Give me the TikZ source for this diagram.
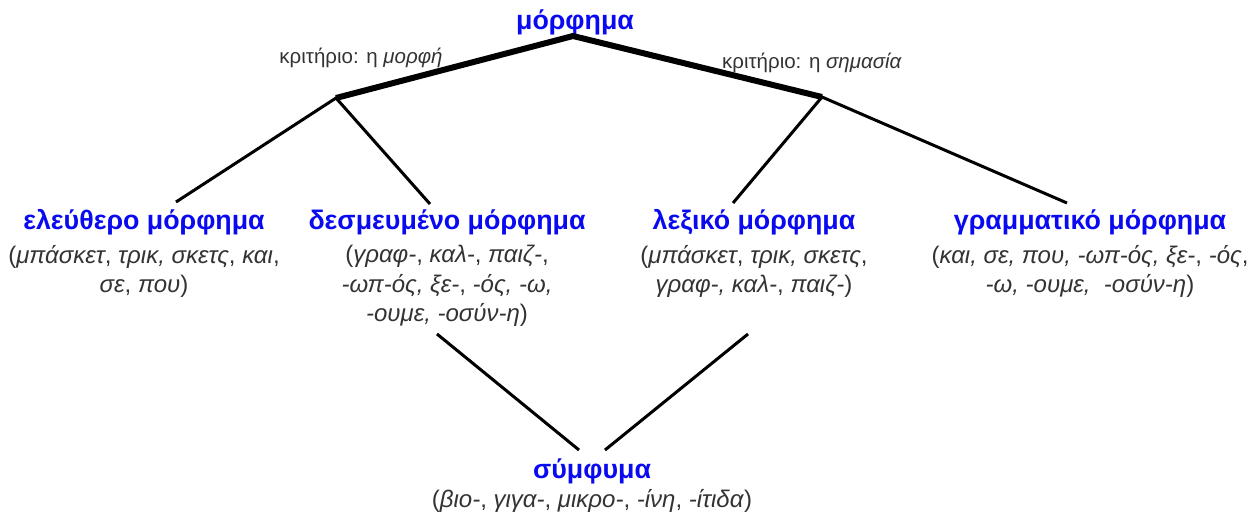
\documentclass[tikz,border=0pt]{standalone}
\usepackage{fontspec}
\setmainfont{Liberation Sans}
\usetikzlibrary{positioning}
\definecolor{titleblue}{RGB}{10,10,240}
\definecolor{textgray}{RGB}{51,51,51}
\tikzset{
  title/.style={text=titleblue, font=\bfseries\fontsize{26.8}{30}\selectfont, inner sep=0pt, anchor=base},
  examples/.style={text=textgray, font=\fontsize{24}{29.5}\selectfont, align=center, inner sep=0pt, anchor=north},
  crit/.style={text=textgray, font=\fontsize{20.5}{24}\selectfont, inner sep=0pt, anchor=base},
  branch/.style={line width=6pt},
  twig/.style={line width=3pt},
}

\begin{document}
\begin{tikzpicture}[x=1pt, y=-1pt]
  \useasboundingbox (0,0) rectangle (1255,515);

  % root and the two criteria
  \node[title] (root) at (575,29) {μόρφημα};
  \coordinate (apex) at (573,36);
  \coordinate (formpt) at (336,98);
  \coordinate (meanpt) at (822,97);
  \node[crit] (critform) at (361,63) {κριτήριο: η \textit{μορφή}};
  \node[crit] (critmean) at (812,68) {κριτήριο: η \textit{σημασία}};

  % second level
  \node[title] (free) at (144,229) {ελεύθερο μόρφημα};
  \node[examples, below=16pt of free.base] (freeex)
    {(\textit{μπάσκετ}, \textit{τρικ, σκετς}, \textit{και},\\ \textit{σε}, \textit{που})};
  \node[title] (bound) at (447,229) {δεσμευμένο μόρφημα};
  \node[examples, below=16pt of bound.base] (boundex)
    {(\textit{γραφ-}, \textit{καλ-}, \textit{παιζ-},\\ \textit{-ωπ-ός, ξε-}, \textit{-ός, -ω,}\\ \textit{-ουμε, -οσύν-η})};
  \node[title] (lex) at (754,229) {λεξικό μόρφημα};
  \node[examples, below=16pt of lex.base] (lexex)
    {(\textit{μπάσκετ}, \textit{τρικ, σκετς},\\ \textit{γραφ-, καλ-}, \textit{παιζ-})};
  \node[title] (gram) at (1090,229) {γραμματικό μόρφημα};
  \node[examples, below=16pt of gram.base] (gramex)
    {(\textit{και, σε, που, -ωπ-ός, ξε-}, \textit{-ός},\\ \textit{-ω, -ουμε,\ \ -οσύν-η})};

  % compound
  \node[title] (comp) at (592,478) {σύμφυμα};
  \node[examples, below=11pt of comp.base] (compex)
    {(\textit{βιο-}, \textit{γιγα-}, \textit{μικρο-}, \textit{-ίνη}, \textit{-ίτιδα})};

  % line ends
  \coordinate (freetop) at (176,202);
  \coordinate (boundtop) at (430,204);
  \coordinate (lextop) at (733,203);
  \coordinate (gramtop) at (1067,203);
  \coordinate (boundbot) at (437,334);
  \coordinate (lexbot) at (748,334);
  \coordinate (compl) at (579,450);
  \coordinate (compr) at (605,450);

  \draw[branch] (formpt) -- (apex) -- (meanpt);
  \draw[twig] (freetop) -- (formpt) -- (boundtop);
  \draw[twig] (lextop) -- (meanpt) -- (gramtop);
  \draw[twig] (boundbot) -- (compl);
  \draw[twig] (lexbot) -- (compr);
\end{tikzpicture}
\end{document}
